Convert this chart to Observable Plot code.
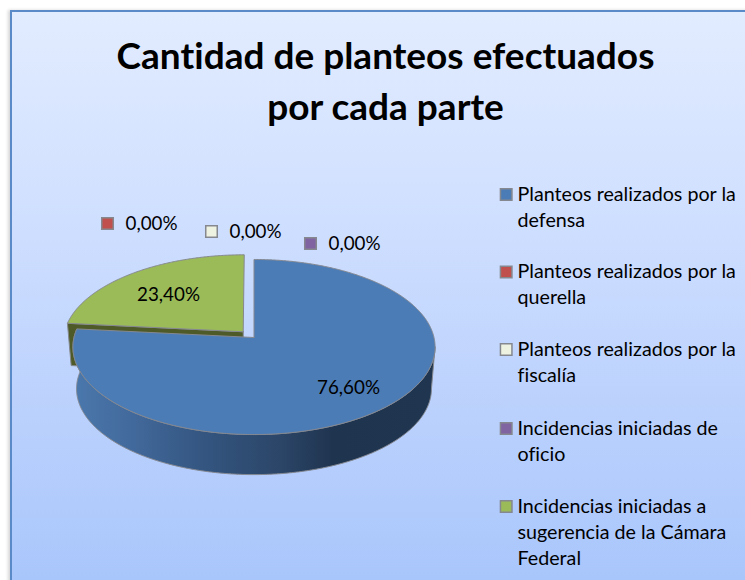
<!DOCTYPE html>
<html>
<head>
<meta charset="utf-8">
<script src="https://cdn.jsdelivr.net/npm/d3@7"></script>
<script src="https://cdn.jsdelivr.net/npm/@observablehq/plot@0.6"></script>
<style>
  html, body { margin: 0; padding: 0; background: #fff; overflow: hidden; }
  #panel {
    position: absolute; left: 10px; top: 10px; width: 760px; height: 600px;
    box-sizing: border-box; border: 2px solid #5a8bc8;
    background: linear-gradient(to bottom, #e2ecff 0%, #d2e1ff 30%, #bcd2fd 65%, #a6c4fb 100%);
    box-shadow: -2px 0 3px rgba(0,0,0,0.16);
  }
  #chart { position: absolute; left: 0; top: 0; font-variant-ligatures: none; }
  #chart text { font-variant-ligatures: none; }
</style>
</head>
<body>
<div id="panel"></div>
<div id="chart"></div>
<script>
const titleLines = ["Cantidad de planteos efectuados", "por cada parte"];
const categories = [
  "Planteos realizados por la defensa",
  "Planteos realizados por la querella",
  "Planteos realizados por la fiscalía",
  "Incidencias iniciadas de oficio",
  "Incidencias iniciadas a sugerencia de la Cámara Federal"
];
const legendLines = [
  ["Planteos realizados por la", "defensa"],
  ["Planteos realizados por la", "querella"],
  ["Planteos realizados por la", "fiscalía"],
  ["Incidencias iniciadas de", "oficio"],
  ["Incidencias iniciadas a", "sugerencia de la Cámara", "Federal"]
];
const values = [76.6, 0, 0, 0, 23.4];
const colors = ["#4c7cb6", "#c0504d", "#eef2e0", "#8064a2", "#9bbb59"];

// Layout of the tilted pie (the page is mapped 1:1 on the scales)
const W = 745, H = 580;
const disc = {cx: 253.5, cy: 337, rx: 180, ry: 86.5, k: 0.1086};
const depth = {dx: 0, dy: 42, scale: 0.98};
const explodeGreen = 0.09;
const labelSpots = [[348, 387], [125, 223], [229, 231], [328, 243], [168, 294]];
const legendY = [194, 271.5, 349, 428, 506];
const lineGap = 26;

function project(u, v, o = {}) {
  const s = o.scale ?? 1, w = 1 + disc.k * v;
  return {
    x: disc.cx + (o.dx ?? 0) + s * disc.rx * u / w,
    y: disc.cy + (o.dy ?? 0) - s * disc.ry * v / w
  };
}
const onRim = (deg, off = [0, 0], o) => {
  const t = deg * Math.PI / 180;
  return project(Math.sin(t) + off[0], Math.cos(t) + off[1], o);
};
function arc(a0, a1, off, o) {
  const n = Math.max(2, Math.ceil(Math.abs(a1 - a0) * 2));
  return d3.range(n + 1).map(i => onRim(a0 + (a1 - a0) * i / n, off, o));
}

const total = d3.sum(values);
const end = values[0] / total * 360;
const midGreen = (end + 360) / 2 * Math.PI / 180;
const off = [Math.sin(midGreen) * explodeGreen, Math.cos(midGreen) * explodeGreen];

const center = (o2, o) => project(o2[0], o2[1], o);
const blueTop = [center([0, 0]), ...arc(0, end, [0, 0]), center([0, 0])];
const greenTop = [center(off), ...arc(end, 360, off), center(off)];
const bottomFace = depth;
const blueSide = [...arc(96.2, end, [0, 0]), ...arc(end, 96.2, [0, 0], bottomFace)];
blueSide.push(blueSide[0]);
const greenFace = [
  center(off), onRim(end, off), onRim(end, off, bottomFace), center(off, bottomFace), center(off)
];

const fmt = v => v.toFixed(2).replace(".", ",") + "%";
const pieLabels = values.map((v, i) => ({t: fmt(v), x: labelSpots[i][0], y: labelSpots[i][1], i}));
const legendText = legendLines.flatMap((ls, i) =>
  ls.map((t, j) => ({t, x: 517, y: legendY[i] + j * lineGap})));
const legendKeys = categories.map((c, i) => ({c, x: 505.7, y: legendY[i], col: colors[i]}));
const zeroKeys = pieLabels.filter(d => values[d.i] === 0)
  .map(d => ({x: d.x - 18, y: d.y, col: colors[d.i]}));

const edge = {x: "x", y: "y", stroke: "#85888f", strokeWidth: 1, strokeLinejoin: "round"};
const font = "Lato, Carlito, sans-serif";

const defs = () => {
  const g = d3.create("svg:defs").append("linearGradient")
    .attr("id", "sideGrad").attr("gradientUnits", "userSpaceOnUse")
    .attr("x1", 76).attr("x2", 432).attr("y1", 0).attr("y2", 0);
  [[0, "#4a77ac"], [0.16, "#42699b"], [0.35, "#345681"], [0.58, "#2b4567"],
   [0.72, "#1f344f"], [1, "#203650"]].forEach(([o, c]) =>
    g.append("stop").attr("offset", o).attr("stop-color", c));
  return g.node().parentNode;
};

const plot = Plot.plot({
  width: W, height: H,
  margin: 0,
  x: {domain: [0, W], range: [0, W], axis: null},
  y: {domain: [0, H], range: [0, H], axis: null},
  style: {background: "transparent"},
  marks: [
    defs,
    Plot.line(greenFace, {...edge, fill: "#4e5a28"}),
    Plot.line(blueSide, {...edge, fill: "url(#sideGrad)"}),
    Plot.line(blueTop, {...edge, fill: colors[0]}),
    Plot.line(greenTop, {...edge, fill: colors[4]}),
    Plot.text(titleLines, {
      x: () => 385, y: (d, i) => 57 + i * 51, text: d => d,
      fontFamily: font, fontWeight: 700, fontSize: 37, fill: "#000", textAnchor: "middle"
    }),
    Plot.text(pieLabels.filter(d => values[d.i] > 0), {
      x: "x", y: "y", text: "t", fontFamily: font, fontSize: 18.8, fill: "#000"
    }),
    Plot.text(pieLabels.filter(d => values[d.i] === 0), {
      x: "x", y: "y", text: "t", textAnchor: "start", fontFamily: font, fontSize: 18.8, fill: "#000"
    }),
    Plot.dot(zeroKeys, {
      x: "x", y: "y", symbol: "square", r: 6.5, fill: "col", stroke: "#85888f", strokeWidth: 1.5
    }),
    Plot.dot(legendKeys, {
      x: "x", y: "y", symbol: "square", r: 6.5, fill: "col", stroke: "#85888f", strokeWidth: 1.5
    }),
    Plot.text(legendText, {
      x: "x", y: "y", text: "t", textAnchor: "start", fontFamily: font, fontSize: 19.7, fill: "#000"
    })
  ]
});
document.getElementById("chart").append(plot);
</script>
</body>
</html>
